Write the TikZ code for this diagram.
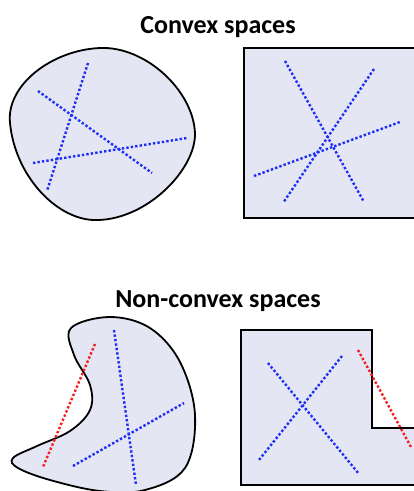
\documentclass[tikz,border=0pt]{standalone}
\usepackage{fontspec}
\setmainfont{Carlito}
\begin{document}
\begin{tikzpicture}[x=1pt,y=-1pt,
  region/.style={draw=black,line width=1.8pt,fill=fillc},
  chord/.style={line width=2.4pt,dash pattern=on 2.4pt off 2.1pt,draw=bluec},
  badchord/.style={line width=2.4pt,dash pattern=on 2.4pt off 2.1pt,draw=redc},
  title/.style={font=\bfseries\fontsize{26}{30}\selectfont,anchor=base}]
\definecolor{fillc}{HTML}{E4E6F4}
\definecolor{bluec}{HTML}{1F2FF5}
\definecolor{redc}{HTML}{F51F1F}
\useasboundingbox (0,0) rectangle (414,491);
\clip (0,0) rectangle (414,491);
\node[title] (t1) at (218,33) {Convex spaces};
\node[title] (t2) at (218,307) {Non-convex spaces};
% convex blob
\draw[region] (100,48) .. controls (145,46) and (193,90) .. (195,133)
  .. controls (196,170) and (145,222) .. (93,220)
  .. controls (55,218) and (15,175) .. (10,123)
  .. controls (6,85) and (52,50) .. (100,48) -- cycle;
\draw[chord] (88,63) -- (47,191);
\draw[chord] (38,91) -- (152,173);
\draw[chord] (33,163) -- (187,138);
% convex rectangle
\draw[region] (244,48) rectangle (420,218);
\draw[chord] (285,61) -- (364,202);
\draw[chord] (374,69) -- (283,203);
\draw[chord] (254,176) -- (400,122);
% non-convex blob
\draw[region] plot[smooth cycle,tension=0.6] coordinates {(110,317) (150,328) (180,362) (195,415) (185,468) (145,490) (100,491) (50,480) (18,468) (13,458) (37,446) (70,431) (90,410) (90,385) (74,355) (71,328)};
\draw[badchord] (95,344) -- (43,467);
\draw[chord] (114,330) -- (136,485);
\draw[chord] (73,466) -- (184,403);
% L shape
\draw[region] (241,330) -- (372,330) -- (372,428) -- (420,428) -- (420,485) -- (241,485) -- cycle;
\draw[chord] (268,363) -- (359,474);
\draw[chord] (342,356) -- (259,460);
\draw[badchord] (358,350) -- (411,447);
\end{tikzpicture}
\end{document}
